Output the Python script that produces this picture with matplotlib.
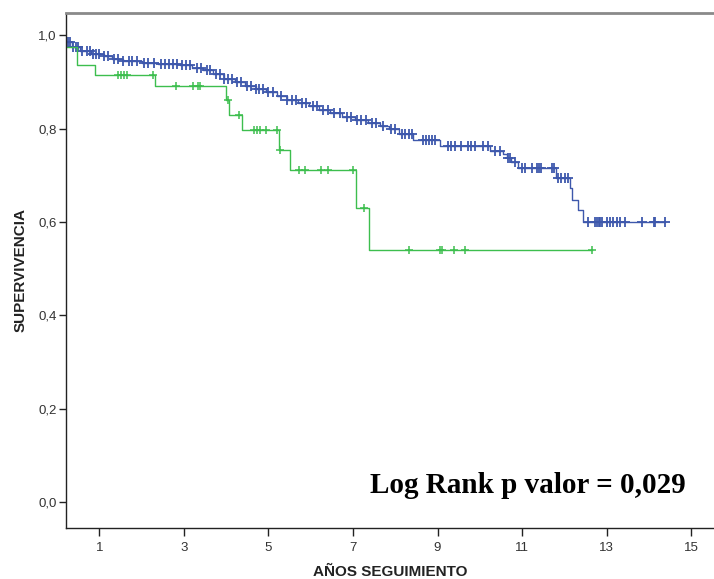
import numpy as np
import matplotlib.pyplot as plt

# Curva azul (grupo mayor): tiempos de evento y supervivencia tras cada evento
blue_times = [0, 0.12, 0.35, 0.55, 0.80, 1.10, 1.30, 1.55, 2.00, 2.40, 2.90, 3.20,
              3.45, 3.70, 3.95, 4.20, 4.45, 4.70, 4.95, 5.20, 5.45, 5.70, 5.95,
              6.20, 6.45, 6.75, 7.05, 7.35, 7.65, 7.85, 8.10, 8.43, 9.05, 10.23,
              10.55, 10.65, 10.75, 10.90, 11.81, 12.14, 12.17, 12.32, 12.44]
blue_surv = [1.0, 0.985, 0.975, 0.966, 0.961, 0.956, 0.949, 0.945, 0.941, 0.939,
             0.936, 0.931, 0.925, 0.917, 0.907, 0.900, 0.892, 0.885, 0.878, 0.870,
             0.862, 0.855, 0.848, 0.840, 0.834, 0.826, 0.818, 0.812, 0.806, 0.800,
             0.789, 0.776, 0.763, 0.752, 0.745, 0.737, 0.728, 0.716, 0.695, 0.672,
             0.648, 0.625, 0.600]
blue_censor = [0.25, 0.30, 0.38, 0.45, 0.50, 0.60, 0.70, 0.78, 0.85, 0.92, 1.00,
               1.10, 1.20, 1.35, 1.45, 1.55, 1.70, 1.78, 1.90, 2.05, 2.15, 2.30,
               2.45, 2.55, 2.65, 2.75, 2.85, 2.95, 3.05, 3.15, 3.30, 3.40, 3.55,
               3.62, 3.75, 3.85, 3.95, 4.05, 4.15, 4.25, 4.35, 4.50, 4.60, 4.70,
               4.78, 4.88, 5.00, 5.10, 5.30, 5.45, 5.55, 5.65, 5.80, 5.90, 6.05,
               6.15, 6.30, 6.40, 6.55, 6.70, 6.85, 6.95, 7.10, 7.20, 7.30, 7.45,
               7.55, 7.70, 7.90, 8.00, 8.16, 8.24, 8.32, 8.39, 8.66, 8.72, 8.80,
               8.88, 8.94, 9.25, 9.33, 9.41, 9.56, 9.72, 9.80, 9.88, 10.08, 10.20,
               10.36, 10.48, 10.66, 10.72, 10.83, 11.00, 11.08, 11.24, 11.36,
               11.40, 11.44, 11.72, 11.76, 11.85, 11.93, 12.01, 12.09, 12.56,
               12.73, 12.77, 12.81, 12.85, 12.89, 13.00, 13.08, 13.16, 13.24,
               13.32, 13.44, 13.83, 14.11, 14.15, 14.39]

# Curva verde (grupo menor)
green_times = [0, 0.12, 0.48, 0.90, 2.31, 3.99, 4.07, 4.38, 5.24, 5.51, 7.07, 7.39]
green_surv = [1.0, 0.975, 0.936, 0.916, 0.891, 0.861, 0.830, 0.797, 0.755,
              0.711, 0.631, 0.541]
green_censor = [1.44, 1.52, 1.58, 1.65, 2.28, 2.81, 3.22, 3.33, 3.38, 4.04, 4.31,
                4.65, 4.73, 4.81, 4.95, 5.20, 5.27, 5.73, 5.86, 6.25, 6.41, 7.01,
                7.26, 8.33, 9.07, 9.10, 9.38, 9.64, 12.65]

blue_color = '#3E58AC'
green_color = '#3DBE4E'


def km_curve(ax, times, surv, censor, color, ms, mew):
    t = list(times) + [max(censor)]
    s = list(surv) + [surv[-1]]
    ax.step(t, s, where='post', color=color, lw=1.0)
    idx = np.searchsorted(np.array(times), np.array(censor), side='right') - 1
    cy = np.array(surv)[idx]
    ax.plot(censor, cy, ls='none', marker='+', ms=ms, mew=mew, color=color)


plt.rcParams['font.family'] = ['Liberation Sans', 'DejaVu Sans']

fig = plt.figure(figsize=(7.14, 5.79), dpi=100)
ax = fig.add_axes([0.0931, 0.0881, 0.9069, 0.8903])

km_curve(ax, blue_times, blue_surv, blue_censor, blue_color, 6.5, 1.3)
km_curve(ax, green_times, green_surv, green_censor, green_color, 6, 1.1)

ax.set_xlim(0.224, 15.54)
ax.set_ylim(-0.0557, 1.049)

ax.set_xticks([1, 3, 5, 7, 9, 11, 13, 15])
ax.set_yticks([0.0, 0.2, 0.4, 0.6, 0.8, 1.0])
ax.set_yticklabels(['0,0', '0,2', '0,4', '0,6', '0,8', '1,0'])
ax.tick_params(axis='both', direction='out', length=5, width=1,
               labelsize=9.5, colors='#222222', labelcolor='#333333')
ax.tick_params(axis='x', length=6, pad=4)
ax.tick_params(axis='y', pad=2)

ax.spines['right'].set_visible(False)
ax.spines['top'].set_color('#8a8a8a')
ax.spines['top'].set_linewidth(2)
for sp in ['left', 'bottom']:
    ax.spines[sp].set_color('#222222')
    ax.spines[sp].set_linewidth(1.0)

ax.set_xlabel('AÑOS SEGUIMIENTO', fontsize=11, fontweight='bold',
              color='#222222', labelpad=8)
ax.set_ylabel('SUPERVIVENCIA', fontsize=11, fontweight='bold',
              color='#222222', labelpad=8)

ax.text(14.88, 0.02, 'Log Rank p valor = 0,029', ha='right', va='baseline',
        fontsize=21, fontweight='bold', family=['Liberation Serif', 'DejaVu Serif'])

fig.savefig('out.png', dpi=100)
